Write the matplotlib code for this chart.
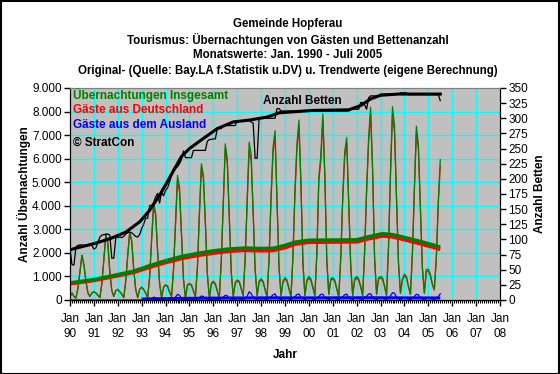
import numpy as np
import matplotlib
matplotlib.use("Agg")
import matplotlib.pyplot as plt
from matplotlib.patches import Rectangle
from matplotlib.ticker import FixedLocator, FuncFormatter

plt.rcParams['font.family'] = ['Liberation Sans', 'DejaVu Sans']

# ---------------- data (monthly, Jan 1990 .. Jul 2005) ----------------
years = list(range(1990, 2009))
tick_labels = ["Jan\n%02d" % (y % 100) for y in years]

total_by_year = {
    1990: [150, 300, 150, 80, 500, 1200, 1900, 1500, 800, 300, 150, 300],
    1991: [350, 300, 200, 100, 700, 1700, 2820, 2400, 1200, 400, 150, 400],
    1992: [450, 350, 250, 100, 800, 1900, 2890, 2500, 1300, 450, 100, 450],
    1993: [550, 450, 300, 100, 1000, 2600, 4090, 3700, 2100, 700, 100, 550],
    1994: [650, 600, 350, 150, 1300, 3300, 5290, 4800, 2800, 900, 80, 650],
    1995: [700, 650, 400, 150, 1400, 3700, 5780, 5300, 3300, 1100, 100, 700],
    1996: [800, 700, 400, 100, 1700, 4200, 6630, 6000, 3600, 1200, 150, 750],
    1997: [850, 800, 500, 200, 1800, 4300, 6700, 6200, 3800, 1300, 200, 800],
    1998: [900, 800, 450, 150, 1800, 4400, 6500, 7190, 4200, 1400, 200, 800],
    1999: [950, 850, 500, 150, 1900, 4650, 6630, 7640, 5010, 1600, 200, 850],
    2000: [1000, 900, 550, 200, 2000, 5220, 6140, 7900, 5360, 1700, 250, 900],
    2001: [950, 850, 500, 150, 1800, 4400, 6300, 6900, 4200, 1500, 200, 900],
    2002: [1000, 900, 600, 200, 2100, 4740, 6910, 8180, 5590, 1800, 250, 950],
    2003: [1000, 950, 600, 200, 2300, 5500, 8210, 7400, 4400, 1600, 300, 900],
    2004: [1100, 1000, 600, 250, 2000, 4800, 7380, 6600, 4000, 1400, 300, 1300],
    2005: [1300, 1100, 700, 450, 1800, 4200, 5960],
}

ausland_by_year = {
    1990: [0, 0, 0, 0, 0, 0, 0, 0, 0, 0, 0, 0],
    1991: [0, 0, 0, 0, 0, 0, 0, 0, 0, 0, 0, 0],
    1992: [0, 0, 0, 0, 0, 0, 0, 0, 0, 0, 0, 0],
    1993: [10, 10, 10, 0, 20, 60, 120, 100, 40, 10, 0, 20],
    1994: [30, 30, 20, 10, 40, 120, 240, 200, 80, 20, 10, 30],
    1995: [30, 30, 20, 10, 40, 100, 170, 150, 60, 20, 10, 30],
    1996: [40, 40, 30, 10, 50, 120, 200, 180, 80, 30, 10, 40],
    1997: [50, 40, 30, 20, 60, 160, 350, 280, 100, 30, 20, 50],
    1998: [50, 50, 30, 20, 60, 140, 220, 260, 100, 30, 20, 50],
    1999: [60, 60, 40, 20, 70, 140, 230, 260, 110, 40, 20, 60],
    2000: [70, 70, 40, 20, 80, 150, 240, 250, 110, 40, 20, 60],
    2001: [60, 60, 40, 20, 70, 140, 220, 250, 100, 40, 20, 70],
    2002: [70, 60, 40, 20, 80, 160, 250, 270, 110, 40, 20, 60],
    2003: [70, 70, 40, 20, 90, 180, 310, 290, 120, 40, 20, 60],
    2004: [70, 60, 40, 20, 80, 150, 240, 220, 100, 40, 20, 80],
    2005: [80, 70, 40, 30, 70, 150, 260],
}

betten_by_year = {
    1990: [85, 58, 58, 88, 90, 91, 91, 90, 91, 91, 92, 90],
    1991: [84, 86, 95, 104, 107, 108, 108, 109, 107, 69, 69, 103],
    1992: [103, 104, 103, 105, 109, 111, 112, 111, 108, 105, 104, 108],
    1993: [118, 125, 135, 135, 156, 156, 161, 170, 176, 160, 178, 172],
    1994: [181, 185, 195, 205, 217, 217, 220, 225, 232, 246, 235, 235],
    1995: [235, 235, 247, 247, 247, 247, 247, 247, 247, 262, 265, 265],
    1996: [266, 266, 283, 283, 283, 288, 288, 288, 288, 288, 288, 288],
    1997: [296, 296, 296, 296, 296, 296, 296, 294, 292, 234, 234, 300],
    1998: [300, 300, 300, 300, 300, 300, 300, 300, 316, 316, 312, 312],
    1999: [312, 312, 312, 312, 312, 312, 312, 312, 312, 312, 312, 312],
    2000: [312, 312, 312, 312, 312, 312, 312, 312, 312, 312, 312, 312],
    2001: [312, 312, 312, 312, 312, 312, 312, 312, 312, 315, 315, 315],
    2002: [315, 315, 326, 326, 322, 315, 334, 337, 337, 337, 337, 337],
    2003: [340, 340, 340, 340, 340, 340, 340, 340, 340, 340, 342, 342],
    2004: [342, 342, 339, 339, 339, 339, 339, 339, 339, 339, 339, 339],
    2005: [339, 339, 339, 339, 339, 339, 329],
}

# trend values (month index since Jan 1990, value)
trend_total_month = [0, 12, 24, 32, 40, 48, 56, 64, 72, 80, 88, 96, 102, 108, 113, 120, 144, 150, 157, 162, 169, 176, 182, 186]
trend_total_value = [730, 870, 1080, 1230, 1460, 1670, 1850, 1980, 2090, 2170, 2210, 2190, 2200, 2320, 2460, 2540, 2560, 2690, 2820, 2780, 2640, 2490, 2350, 2250]
trend_de_value = [690, 830, 1030, 1170, 1390, 1590, 1760, 1890, 1990, 2070, 2110, 2090, 2100, 2220, 2370, 2450, 2470, 2600, 2720, 2680, 2540, 2390, 2250, 2150]
trend_aus_month = [36, 48, 60, 72, 96, 120, 150, 186]
trend_aus_value = [40, 60, 70, 80, 90, 90, 95, 85]
trend_betten_month = [0, 6, 12, 20, 28, 35, 40, 45, 48, 56, 60, 65, 74, 82, 90, 99, 105, 122, 140, 146, 151, 156, 165, 186]
trend_betten_value = [83, 88, 93, 101, 112, 129, 148, 173, 190, 237, 250, 262, 283, 294, 297, 302, 309, 313, 314, 321, 332, 338, 340, 340]

total = np.array(sum((total_by_year[y] for y in sorted(total_by_year)), []), dtype=float)
ausland = np.array(sum((ausland_by_year[y] for y in sorted(ausland_by_year)), []), dtype=float)
deutschland = total - ausland
betten = np.array(sum((betten_by_year[y] for y in sorted(betten_by_year)), []), dtype=float)
months = np.arange(len(total))

# ---------------- figure ----------------
W, H = 560, 374
fig = plt.figure(figsize=(W / 100, H / 100), dpi=100)
fig.patch.set_facecolor('white')
fig.patches.append(Rectangle((0.001, 0.001), 0.997, 0.996, transform=fig.transFigure,
                             fill=False, edgecolor='black', linewidth=1.5))

L, R, T, B = 70, 500, 88, 300
ax = fig.add_axes([L / W, 1 - B / H, (R - L) / W, (B - T) / H])
ax.set_facecolor('#C0C0C0')
ax.set_xlim(0, 216)
ax.set_ylim(0, 9000)

# grid
for m in range(12, 216, 12):
    ax.axvline(m, color='#00FFFF', lw=1.0, zorder=0.5)
for v in range(1000, 9000, 1000):
    ax.axhline(v, color='#00FFFF', lw=1.0, zorder=0.5)

# series
ax.plot(months, deutschland, color='#FF0000', lw=0.9, zorder=2)
ax.plot(months, total, color='#008000', lw=0.9, zorder=3)
ax.plot(trend_total_month, trend_de_value, color='#FF0000', lw=2.6, zorder=4, solid_capstyle='butt')
ax.plot(trend_total_month, trend_total_value, color='#008000', lw=2.4, zorder=5, solid_capstyle='butt')
ax.plot(months, ausland, color='#0000FF', lw=0.9, zorder=6)
ax.plot(trend_aus_month, trend_aus_value, color='#0000FF', lw=2.2, zorder=6, solid_capstyle='butt')

ax.xaxis.set_major_locator(FixedLocator(list(range(0, 217, 12))))
ax.xaxis.set_minor_locator(FixedLocator([m for m in range(0, 217) if m % 12]))
ax.set_xticklabels(tick_labels)
ax.yaxis.set_major_locator(FixedLocator(list(range(0, 9001, 1000))))
ax.yaxis.set_major_formatter(FuncFormatter(lambda v, p: f"{int(v):,}".replace(",", ".")))
ax.tick_params(axis='x', which='major', length=4, width=1, direction='out', labelsize=8.5, pad=5)
ax.tick_params(axis='x', which='minor', length=2, width=0.8, direction='out')
ax.tick_params(axis='y', which='major', length=4, width=1, direction='out', labelsize=8.5, pad=2)
for lab in ax.get_xticklabels():
    lab.set_linespacing(1.35)
for s in ['left', 'bottom', 'right']:
    ax.spines[s].set_color('black')
ax.spines['top'].set_color('#808080')

ax.set_xlabel('Jahr', fontsize=8.5, fontweight='bold', labelpad=7)
ax.set_ylabel('Anzahl Übernachtungen', fontsize=8.5, fontweight='bold', labelpad=1)

# beds on right axis
ax2 = ax.twinx()
ax2.set_ylim(0, 350)
ax2.set_xlim(0, 216)
ax2.plot(months, betten, color='black', lw=0.9, zorder=2)
ax2.plot(trend_betten_month, trend_betten_value, color='black', lw=2.2, zorder=3)
ax2.yaxis.set_major_locator(FixedLocator(list(range(0, 351, 25))))
ax2.tick_params(axis='y', length=4, width=1, direction='out', labelsize=8.5, pad=2)
ax2.set_ylabel('Anzahl Betten', fontsize=8.5, fontweight='bold', labelpad=4)
ax2.spines['top'].set_color('#808080')

# texts inside plot
def px(x, y):
    return x / W, 1 - y / H

fig.text(*px(73, 95), 'Übernachtungen Insgesamt', color='#008000', fontsize=8.5, fontweight='bold', va='center', ha='left')
fig.text(*px(73, 110), 'Gäste aus Deutschland', color='#FF0000', fontsize=8.5, fontweight='bold', va='center', ha='left')
fig.text(*px(73, 125), 'Gäste aus dem Ausland', color='#0000FF', fontsize=8.5, fontweight='bold', va='center', ha='left')
fig.text(*px(73, 143), '© StratCon', color='black', fontsize=8.5, fontweight='bold', va='center', ha='left')
fig.text(*px(263, 101), 'Anzahl Betten', color='black', fontsize=8.5, fontweight='bold', va='center', ha='left')

# title
titles = ["Gemeinde Hopferau",
          "Tourismus: Übernachtungen von Gästen und Bettenanzahl",
          "Monatswerte: Jan. 1990 - Juli 2005",
          "Original- (Quelle: Bay.LA f.Statistik u.DV) u. Trendwerte (eigene Berechnung)"]
for t, yy in zip(titles, [24, 40, 55, 71]):
    fig.text(*px(288, yy), t, fontsize=8.3, fontweight='bold', ha='center', va='center')

fig.savefig('out.png', dpi=100)
